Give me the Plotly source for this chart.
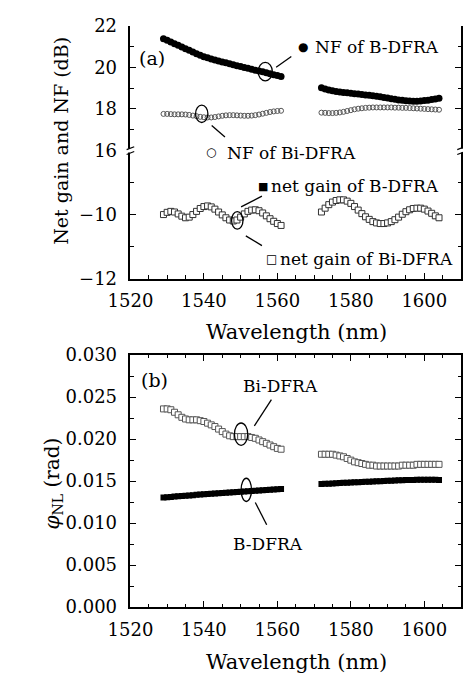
import plotly.graph_objects as go

# ---------------- data ----------------
wl_a = [1529, 1530, 1531, 1532, 1533, 1534, 1535, 1536, 1537, 1538, 1539, 1540, 1541, 1542, 1543, 1544, 1545,
        1546, 1547, 1548, 1549, 1550, 1551, 1552, 1553, 1554, 1555, 1556, 1557, 1558, 1559, 1560, 1561]
wl_b = [1572, 1573, 1574, 1575, 1576, 1577, 1578, 1579, 1580, 1581, 1582, 1583, 1584, 1585, 1586, 1587, 1588,
        1589, 1590, 1591, 1592, 1593, 1594, 1595, 1596, 1597, 1598, 1599, 1600, 1601, 1602, 1603, 1604]

nf_b_a = [21.37, 21.29, 21.21, 21.13, 21.05, 20.97, 20.89, 20.81, 20.73, 20.65, 20.57, 20.50, 20.45, 20.40,
          20.35, 20.30, 20.25, 20.21, 20.17, 20.12, 20.07, 20.03, 19.99, 19.95, 19.90, 19.86, 19.82, 19.78,
          19.73, 19.69, 19.64, 19.60, 19.56]
nf_b_b = [19.02, 18.96, 18.91, 18.87, 18.84, 18.81, 18.79, 18.77, 18.75, 18.73, 18.71, 18.69, 18.67, 18.65,
          18.63, 18.61, 18.58, 18.55, 18.52, 18.49, 18.46, 18.43, 18.41, 18.39, 18.38, 18.37, 18.37, 18.38,
          18.40, 18.42, 18.45, 18.48, 18.51]
nf_bi_a = [17.76, 17.76, 17.75, 17.74, 17.74, 17.74, 17.73, 17.71, 17.68, 17.65, 17.62, 17.60, 17.59, 17.59,
           17.61, 17.64, 17.67, 17.69, 17.70, 17.70, 17.69, 17.68, 17.67, 17.67, 17.68, 17.70, 17.73, 17.77,
           17.81, 17.85, 17.88, 17.90, 17.91]
nf_bi_b = [17.82, 17.81, 17.80, 17.80, 17.81, 17.83, 17.86, 17.90, 17.94, 17.98, 18.01, 18.03, 18.05, 18.06,
           18.07, 18.07, 18.07, 18.07, 18.07, 18.07, 18.06, 18.06, 18.05, 18.05, 18.04, 18.03, 18.02, 18.01,
           18.00, 17.99, 17.98, 17.97, 17.96]

gain_bi_a = [-10.00, -9.93, -9.90, -9.92, -9.98, -10.05, -10.10, -10.08, -10.00, -9.90, -9.81, -9.75, -9.73,
             -9.76, -9.83, -9.92, -10.01, -10.10, -10.17, -10.20, -10.17, -10.08, -9.98, -9.90, -9.86, -9.85,
             -9.88, -9.95, -10.04, -10.13, -10.21, -10.28, -10.34]
gain_bi_b = [-9.92, -9.80, -9.69, -9.61, -9.56, -9.54, -9.54, -9.58, -9.65, -9.75, -9.86, -9.97, -10.07,
             -10.15, -10.22, -10.26, -10.28, -10.28, -10.26, -10.22, -10.16, -10.08, -9.99, -9.91, -9.85,
             -9.81, -9.80, -9.80, -9.83, -9.89, -9.96, -10.04, -10.10]
gain_b_a = [-10.01, -9.94, -9.91, -9.93, -9.99, -10.06, -10.11, -10.09, -10.01, -9.91, -9.82, -9.76, -9.74,
            -9.77, -9.84, -9.93, -10.02, -10.11, -10.18, -10.21, -10.18, -10.09, -9.99, -9.91, -9.87, -9.86,
            -9.89, -9.96, -10.05, -10.14, -10.22, -10.29, -10.35]
gain_b_b = [-9.93, -9.81, -9.70, -9.62, -9.57, -9.55, -9.55, -9.59, -9.66, -9.76, -9.87, -9.98, -10.08,
            -10.16, -10.23, -10.27, -10.29, -10.29, -10.27, -10.23, -10.17, -10.09, -10.00, -9.92, -9.86,
            -9.82, -9.81, -9.81, -9.84, -9.90, -9.97, -10.05, -10.11]

phi_bi_a = [0.0236, 0.0236, 0.0235, 0.0232, 0.0229, 0.0226, 0.0224, 0.0223, 0.0223, 0.0223, 0.0222, 0.0221,
            0.0219, 0.0217, 0.0215, 0.0212, 0.0209, 0.0206, 0.0204, 0.0203, 0.0203, 0.0203, 0.0203, 0.0203,
            0.0202, 0.0201, 0.0199, 0.0197, 0.0195, 0.0193, 0.0191, 0.0189, 0.0188]
phi_bi_b = [0.0182, 0.0182, 0.0182, 0.0182, 0.0181, 0.0180, 0.0179, 0.0177, 0.0175, 0.0173, 0.0172, 0.0171,
            0.0170, 0.0169, 0.0169, 0.0168, 0.0168, 0.0168, 0.0168, 0.0168, 0.0168, 0.0168, 0.0169, 0.0169,
            0.0169, 0.0169, 0.0170, 0.0170, 0.0170, 0.0170, 0.0170, 0.0170, 0.0170]
phi_b_a = [0.01305, 0.01309, 0.01312, 0.01316, 0.01319, 0.01323, 0.01326, 0.01330, 0.01333, 0.01337, 0.01340,
           0.01343, 0.01347, 0.01350, 0.01353, 0.01357, 0.01360, 0.01363, 0.01366, 0.01369, 0.01372, 0.01375,
           0.01378, 0.01381, 0.01384, 0.01387, 0.01390, 0.01393, 0.01396, 0.01399, 0.01402, 0.01405, 0.01408]
phi_b_b = [0.01465, 0.01468, 0.01470, 0.01473, 0.01475, 0.01478, 0.01480, 0.01482, 0.01484, 0.01486, 0.01488,
           0.01490, 0.01492, 0.01494, 0.01496, 0.01498, 0.01500, 0.01502, 0.01504, 0.01506, 0.01508, 0.01510,
           0.01512, 0.01513, 0.01514, 0.01515, 0.01516, 0.01517, 0.01517, 0.01517, 0.01517, 0.01516, 0.01515]

# ---------------- layout helpers ----------------
W, H = 463, 686
FONT = "'DejaVu Serif', 'Liberation Serif', 'Times New Roman', serif"


def px(x):
    return x / W


def py(y):
    return 1 - y / H


fig = go.Figure()


def add(xs, ys, xa, ya, symbol, size, fill, edge, lw):
    fig.add_trace(go.Scatter(x=xs, y=ys, xaxis=xa, yaxis=ya, mode="markers",
                             marker=dict(symbol=symbol, size=size, color=fill,
                                         line=dict(color=edge, width=lw)),
                             showlegend=False, hoverinfo="skip"))


for xs, ys in [(wl_a, nf_b_a), (wl_b, nf_b_b)]:
    add(xs, ys, "x", "y2", "circle", 7, "black", "black", 0)
for xs, ys in [(wl_a, nf_bi_a), (wl_b, nf_bi_b)]:
    add(xs, ys, "x", "y2", "circle-open", 5, "#555", "#555", 1)
for xs, ys in [(wl_a, gain_b_a), (wl_b, gain_b_b)]:
    add(xs, ys, "x", "y", "square", 5, "#222", "#222", 0)
for xs, ys in [(wl_a, gain_bi_a), (wl_b, gain_bi_b)]:
    add(xs, ys, "x", "y", "square", 6, "white", "#333", 1)
for xs, ys in [(wl_a, phi_bi_a), (wl_b, phi_bi_b)]:
    add(xs, ys, "x2", "y3", "square", 6, "white", "#555", 1)
for xs, ys in [(wl_a, phi_b_a), (wl_b, phi_b_b)]:
    add(xs, ys, "x2", "y3", "square", 6, "black", "black", 0)

XDOM = [px(113.3), px(462)]
Y_UP = [py(144), py(15)]
Y_LO = [py(276), py(144)]
Y_B = [py(615), py(355)]

tickfont = dict(family=FONT, size=18, color="black")
common = dict(showline=True, linecolor="black", linewidth=1.5, ticks="inside", ticklen=6,
              tickwidth=1.2, tickcolor="black", showgrid=False, zeroline=False, tickfont=tickfont)
minor_x = dict(ticks="inside", ticklen=3.5, tickwidth=1.2, tickcolor="black", dtick=5, showgrid=False)

fig.update_layout(
    width=W, height=H, margin=dict(l=0, r=0, t=0, b=0),
    font=dict(family=FONT),
    paper_bgcolor="white", plot_bgcolor="white",
    xaxis=dict(domain=XDOM, range=[1520, 1610], anchor="y", dtick=20, tick0=1520,
               minor=minor_x, ticklabelstandoff=5, **common),
    xaxis3=dict(domain=XDOM, range=[1520, 1610], anchor="y2", side="top", overlaying="x",
                dtick=20, tick0=1520, minor=minor_x, showticklabels=False, **common),
    xaxis2=dict(domain=XDOM, range=[1520, 1610], anchor="y3", dtick=20, tick0=1520,
                minor=minor_x, mirror="allticks", ticklabelstandoff=5, **common),
    yaxis2=dict(domain=Y_UP, range=[16, 22], anchor="x", tickvals=[16, 18, 20, 22],
                minor=dict(ticks="inside", ticklen=3.5, tickwidth=1.2, tickcolor="black", dtick=1, showgrid=False),
                mirror="allticks", ticklabelstandoff=8, **common),
    yaxis=dict(domain=Y_LO, range=[-12, -8], anchor="x", tickvals=[-12, -10],
               minor=dict(ticks="inside", ticklen=3.5, tickwidth=1.2, tickcolor="black",
                          tickvals=[-11, -9], showgrid=False),
               mirror="allticks", ticklabelstandoff=8, **common),
    yaxis3=dict(domain=Y_B, range=[0, 0.030], anchor="x2", tickvals=[0, 0.005, 0.010, 0.015, 0.020, 0.025, 0.030],
                tickformat=".3f",
                minor=dict(ticks="inside", ticklen=3.5, tickwidth=1.2, tickcolor="black", dtick=0.0025, showgrid=False),
                mirror="allticks", ticklabelstandoff=8, **common),
)

annots = []


def text(x, y, t, size=17, angle=0):
    annots.append(dict(x=px(x), y=py(y), xref="paper", yref="paper", text=t, showarrow=False,
                       textangle=angle, xanchor="center", yanchor="middle",
                       font=dict(family=FONT, size=size, color="black")))


text(288, 331, "Wavelength (nm)", 21)
text(288, 672, "Wavelength (nm)", 21)
text(40, 134, "Net gain and NF (dB)", 19, -90)
text(32, 487, "<i>φ</i><sub>NL</sub> (rad)", 20, -90)
text(136, 49, "(a)", 19)
text(139, 381, "(b)", 19)
text(373, 37, "NF of B-DFRA", 17)
text(283, 146, "NF of Bi-DFRA", 17)
text(350, 181, "net gain of B-DFRA", 17)
text(362, 256, "net gain of Bi-DFRA", 17)
text(272, 387, "Bi-DFRA", 17)
text(258, 550, "B-DFRA", 17)

# legend-like symbols next to labels
annots_sym = [(295, 37, "●", 12), (198, 145, "○", 12), (253, 181, "■", 11), (262, 256, "□", 12)]
for x, y, s, sz in annots_sym:
    annots.append(dict(x=px(x), y=py(y), xref="paper", yref="paper", text=s, showarrow=False,
                       xanchor="center", yanchor="middle",
                       font=dict(family="DejaVu Sans", size=sz, color="black")))

fig.update_layout(annotations=annots)

shapes = []


def ellipse(cx, cy, w, h):
    shapes.append(dict(type="circle", xref="paper", yref="paper",
                       x0=px(cx - w / 2), x1=px(cx + w / 2), y0=py(cy + h / 2), y1=py(cy - h / 2),
                       line=dict(color="black", width=1.3)))


def seg(x0, y0, x1, y1, w=1.3):
    shapes.append(dict(type="line", xref="paper", yref="paper",
                       x0=px(x0), y0=py(y0), x1=px(x1), y1=py(y1), line=dict(color="black", width=w)))


ellipse(255.5, 62.5, 15, 19)
seg(267, 58, 283, 47)
ellipse(188.5, 106, 13, 18)
seg(199, 118, 213, 130)
ellipse(226, 216, 12, 18)
seg(230, 202, 252, 191)
seg(235, 232, 252, 242)
ellipse(230, 436.5, 14, 23)
seg(244, 428, 262, 401)
ellipse(235.5, 494, 11, 24)
seg(245, 507, 257, 530)

# axis break marks
for bx in (113.3, 462):
    shapes.append(dict(type="rect", xref="paper", yref="paper", x0=px(bx - 3), x1=px(bx + 3),
                       y0=py(146), y1=py(142), line=dict(width=0), fillcolor="white"))
    seg(bx - 4, 143, bx + 4, 140, 1.2)
    seg(bx - 4, 148, bx + 4, 145, 1.2)

fig.update_layout(shapes=shapes)

fig.write_html("out.html")
